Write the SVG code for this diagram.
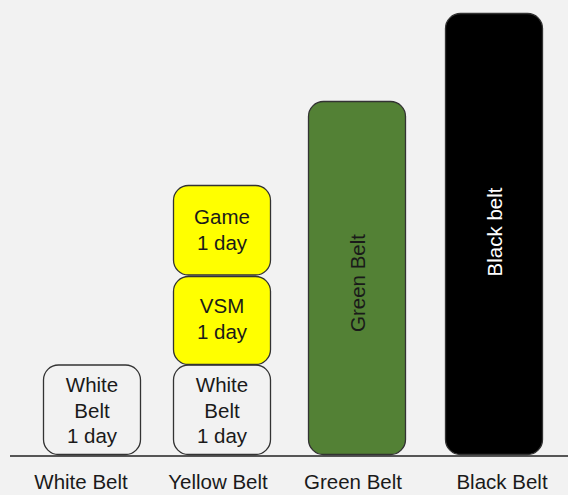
<svg xmlns="http://www.w3.org/2000/svg" width="568" height="495" viewBox="0 0 568 495">
<style>
.box{stroke:#333;stroke-width:1.3}
.t{font-family:"Liberation Sans",Arial,sans-serif;font-size:20.5px;text-anchor:middle;fill:#1a1a1a}
.w{fill:#f2f2f2}
.y{fill:#ffff00}
</style>
<rect x="0" y="0" width="568" height="495" fill="#f2f2f2"/>
<g id="white-belt-box">
<rect class="box w" x="43.5" y="365" width="97" height="89.5" rx="15"/>
<text class="t" x="92" y="392">White</text>
<text class="t" x="92" y="418">Belt</text>
<text class="t" x="92" y="443">1 day</text>
</g>
<g id="yellow-white-box">
<rect class="box w" x="173.5" y="365" width="97" height="89.5" rx="15"/>
<text class="t" x="222" y="392">White</text>
<text class="t" x="222" y="418">Belt</text>
<text class="t" x="222" y="443">1 day</text>
</g>
<g id="vsm-box">
<rect class="box y" x="173.5" y="276.5" width="97" height="88" rx="15"/>
<text class="t" x="222" y="313">VSM</text>
<text class="t" x="222" y="339">1 day</text>
</g>
<g id="game-box">
<rect class="box y" x="173.5" y="185.5" width="97" height="89.5" rx="15"/>
<text class="t" x="222" y="224">Game</text>
<text class="t" x="222" y="250">1 day</text>
</g>
<g id="green-belt-box">
<rect class="box" x="308.5" y="101.5" width="97" height="353" rx="15" fill="#538135"/>
<text class="t" transform="translate(357,283) rotate(-90)" dominant-baseline="central">Green Belt</text>
</g>
<g id="black-belt-box">
<rect class="box" x="445.5" y="13.5" width="97" height="441" rx="15" fill="#000"/>
<text class="t" transform="translate(494,232) rotate(-90)" dominant-baseline="central" style="fill:#fff">Black belt</text>
</g>
<g id="connectors">
<line x1="10" y1="456" x2="568" y2="456" stroke="#222" stroke-width="1.3"/>
</g>
<g id="labels">
<text class="t" x="81" y="489">White Belt</text>
<text class="t" x="218" y="489">Yellow Belt</text>
<text class="t" x="353" y="489">Green Belt</text>
<text class="t" x="502" y="489">Black Belt</text>
</g>
</svg>
